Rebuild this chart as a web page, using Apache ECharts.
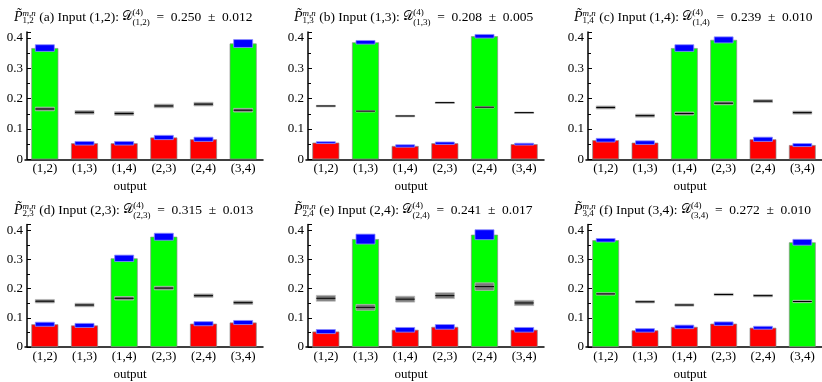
<!DOCTYPE html>
<html><head><meta charset="utf-8">
<script src="https://cdn.jsdelivr.net/npm/echarts@6/dist/echarts.min.js"></script>
<style>html,body{margin:0;padding:0;background:#fff}#c{width:822px;height:382px}</style>
</head><body><div id="c"></div>
<script>
// ---------- data ----------
const categories = ['(1,2)', '(1,3)', '(1,4)', '(2,3)', '(2,4)', '(3,4)'];
const panelLetters = ['a', 'b', 'c', 'd', 'e', 'f'];
const inputs = ['1,2', '1,3', '1,4', '2,3', '2,4', '3,4'];
const dValues = ['0.250', '0.208', '0.239', '0.315', '0.241', '0.272'];
const dErrors = ['0.012', '0.005', '0.010', '0.013', '0.017', '0.010'];
const yTicks = [0, 0.1, 0.2, 0.3, 0.4];

// measured probabilities (bars) and their errors (blue)
const measA = [0.367, 0.053, 0.053, 0.072, 0.066, 0.382];
const measB = [0.055, 0.386, 0.044, 0.053, 0.406, 0.050];
const measC = [0.063, 0.055, 0.367, 0.394, 0.066, 0.047];
const measD = [0.078, 0.074, 0.304, 0.378, 0.080, 0.084];
const measE = [0.053, 0.370, 0.059, 0.069, 0.385, 0.059];
const measF = [0.366, 0.057, 0.069, 0.080, 0.066, 0.359];
const errA = [0.011, 0.006, 0.006, 0.007, 0.007, 0.013];
const errB = [0.003, 0.006, 0.004, 0.004, 0.006, 0.003];
const errC = [0.006, 0.006, 0.011, 0.010, 0.007, 0.005];
const errD = [0.007, 0.007, 0.011, 0.012, 0.007, 0.007];
const errE = [0.007, 0.017, 0.008, 0.008, 0.017, 0.008];
const errF = [0.006, 0.006, 0.006, 0.006, 0.005, 0.010];
// reference (gray) values and their errors
const refA = [0.166, 0.155, 0.151, 0.176, 0.182, 0.162];
const refB = [0.176, 0.159, 0.143, 0.187, 0.172, 0.154];
const refC = [0.171, 0.144, 0.151, 0.185, 0.192, 0.154];
const refD = [0.157, 0.144, 0.167, 0.202, 0.176, 0.152];
const refE = [0.167, 0.136, 0.164, 0.176, 0.207, 0.151];
const refF = [0.182, 0.155, 0.144, 0.180, 0.176, 0.156];
const refErrA = [0.006, 0.006, 0.006, 0.006, 0.006, 0.006];
const refErrB = [0.002, 0.002, 0.002, 0.002, 0.002, 0.002];
const refErrC = [0.005, 0.005, 0.005, 0.005, 0.005, 0.005];
const refErrD = [0.006, 0.006, 0.006, 0.006, 0.006, 0.006];
const refErrE = [0.010, 0.010, 0.010, 0.010, 0.013, 0.009];
const refErrF = [0.004, 0.004, 0.004, 0.004, 0.004, 0.004];
// outputs highlighted in green (indices into categories)
const greenA = [0, 5];
const greenB = [1, 4];
const greenC = [2, 3];
const greenD = [2, 3];
const greenE = [1, 4];
const greenF = [0, 5];

const meas = [measA, measB, measC, measD, measE, measF];
const errs = [errA, errB, errC, errD, errE, errF];
const refs = [refA, refB, refC, refD, refE, refF];
const refErrs = [refErrA, refErrB, refErrC, refErrD, refErrE, refErrF];
const greens = [greenA, greenB, greenC, greenD, greenE, greenF];

// ---------- layout ----------
const FONT = 'Liberation Serif';
const gridLefts = [25, 306, 586];
const gridTops = [32, 224.5];
const gridHeights = [127.3, 128.2];
const titleLefts = [9, 289, 569];
const titleTops = [2, 195];

const grids = [], xAxes = [], yAxes = [], series = [], titles = [];
const txt = (extra) => Object.assign({fontFamily: FONT, fontWeight: 'normal', color: '#000'}, extra);
const SP = '\u2002';

for (let p = 0; p < 6; p++) {
  const col = p % 3, row = Math.floor(p / 3);
  grids.push({left: gridLefts[col], top: gridTops[row], width: 238, height: gridHeights[row]});
  xAxes.push({
    gridIndex: p, type: 'category', data: categories, boundaryGap: true,
    axisLine: {lineStyle: {color: '#000', width: 1.5}},
    axisTick: {show: false},
    axisLabel: {fontFamily: FONT, fontSize: 13, color: '#000', margin: 3},
    name: 'output', nameLocation: 'middle', nameGap: 21,
    nameTextStyle: {fontFamily: FONT, fontSize: 13, color: '#000', padding: [0, 28, 0, 0]}
  });
  yAxes.push({
    gridIndex: p, type: 'value', min: yTicks[0], max: 0.42, interval: 0.1, offset: -2,
    axisLine: {show: true, lineStyle: {color: '#000', width: 1.5}},
    axisTick: {show: true, inside: true, length: 4, lineStyle: {color: '#000'}},
    minorTick: {show: true, splitNumber: 2, length: 3, lineStyle: {color: '#000'}},
    splitLine: {show: false},
    axisLabel: {fontFamily: FONT, fontSize: 13, color: '#000', margin: 4, showMaxLabel: false,
      formatter: v => yTicks.some(t => Math.abs(t - v) < 1e-9) ? String(v) : ''}
  });
  const g = greens[p];
  series.push({
    type: 'bar', xAxisIndex: p, yAxisIndex: p, barWidth: '68%',
    data: meas[p].map((v, i) => ({value: v, itemStyle: {color: g.includes(i) ? '#00ff00' : '#ff0000'}})),
    itemStyle: {borderColor: '#8a8a8a', borderWidth: 0.7},
    animation: false, z: 2
  });
  series.push({
    type: 'custom', xAxisIndex: p, yAxisIndex: p, animation: false, z: 3,
    data: refs[p].map((v, i) => [i, v, refErrs[p][i]]),
    encode: {x: 0, y: 1},
    renderItem: (params, api) => {
      const i = api.value(0), v = api.value(1), e = api.value(2);
      const t = api.coord([i, v + e]), b = api.coord([i, v - e]), c = api.coord([i, v]);
      const w = api.size([1, 0])[0] * 0.48;
      return {type: 'group', children: [
        {type: 'rect', shape: {x: c[0] - w / 2, y: t[1], width: w, height: Math.max(b[1] - t[1], 1.5)},
         style: {fill: '#7a7a7a', stroke: '#b8b8b8', lineWidth: 0.8}},
        {type: 'line', shape: {x1: c[0] - w / 2, y1: c[1], x2: c[0] + w / 2, y2: c[1]},
         style: {stroke: '#000', lineWidth: 1}}
      ]};
    }
  });
  series.push({
    type: 'custom', xAxisIndex: p, yAxisIndex: p, animation: false, z: 4,
    data: meas[p].map((v, i) => [i, v, errs[p][i]]),
    encode: {x: 0, y: 1},
    renderItem: (params, api) => {
      const i = api.value(0), v = api.value(1), e = api.value(2);
      const t = api.coord([i, v + e]), b = api.coord([i, v - e]);
      const w = api.size([1, 0])[0] * 0.48;
      return {type: 'rect', shape: {x: t[0] - w / 2, y: t[1], width: w, height: Math.max(b[1] - t[1], 1.5)},
        style: {fill: '#0000ff', stroke: '#8c8cff', lineWidth: 0.8}};
    }
  });
  const inp = inputs[p];
  titles.push({
    left: titleLefts[col], top: titleTops[row],
    text: `{pt|P̃}{sb0|${inp}}{sp|m,n}{t| (${panelLetters[p]}) Input (${inp}): }{cal|𝒟}{sp0|(4)}{sb|(${inp})}{t|${SP}=${SP}${dValues[p]}${SP}±${SP}${dErrors[p]}}`,
    textStyle: {
      fontWeight: 'normal',
      rich: {
        t: txt({fontSize: 13.5}),
        pt: txt({fontStyle: 'italic', fontSize: 14}),
        sp: txt({fontStyle: 'italic', fontSize: 9, padding: [0, 0, 7, 0]}),
        sb0: txt({fontSize: 9, padding: [7, 0, 0, 0], width: 0}),
        cal: txt({fontFamily: 'DejaVu Serif', fontSize: 13}),
        sp0: txt({fontSize: 9, padding: [0, 0, 9, 0], width: 0}),
        sb: txt({fontSize: 9, padding: [11, 0, 0, 0]})
      }
    }
  });
}

const chart = echarts.init(document.getElementById('c'), null, {renderer: 'canvas'});
chart.setOption({
  backgroundColor: '#fff', animation: false,
  title: titles, grid: grids, xAxis: xAxes, yAxis: yAxes, series: series
});
</script></body></html>
